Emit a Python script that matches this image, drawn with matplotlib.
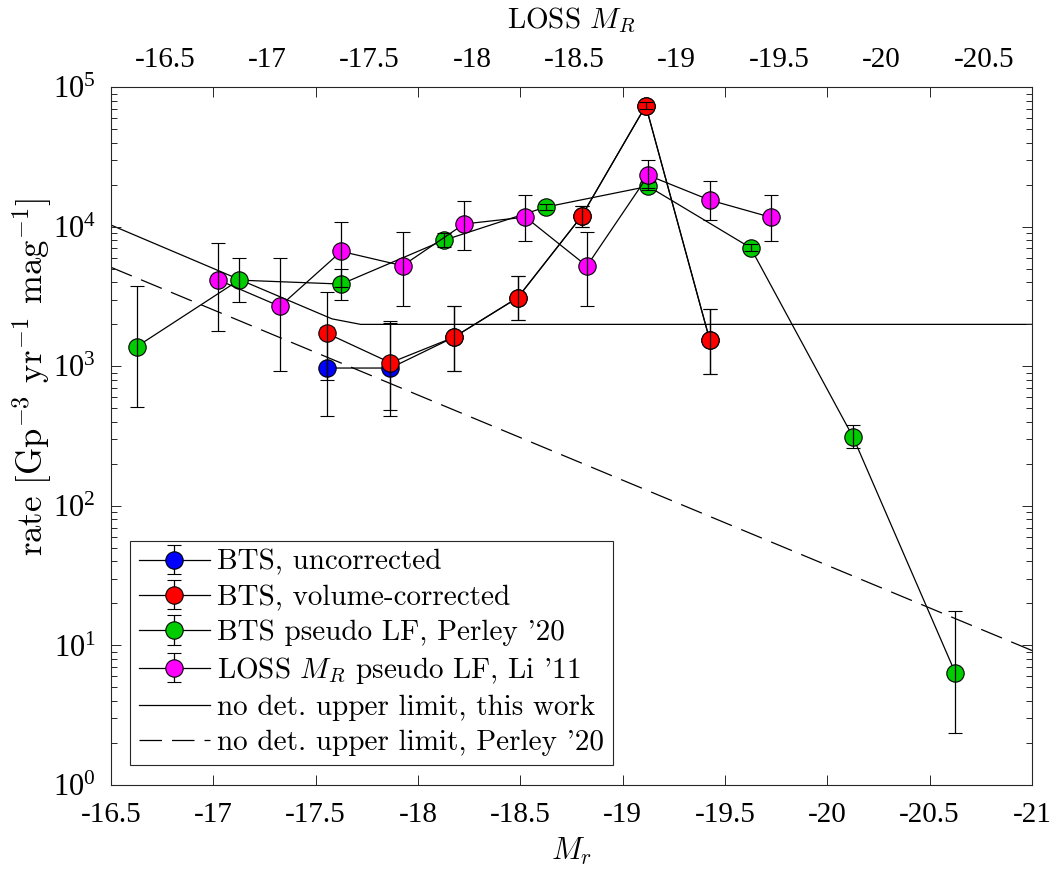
import numpy as np
import matplotlib
matplotlib.use('Agg')
import matplotlib.pyplot as plt
from matplotlib.ticker import FixedLocator, FuncFormatter, LogLocator, NullFormatter

plt.rcParams['mathtext.fontset'] = 'cm'
plt.rcParams['axes.unicode_minus'] = False
plt.rcParams['font.family'] = ['Liberation Serif', 'DejaVu Serif']

# ---------------- data ----------------
blue_x = [-17.555, -17.865, -18.175, -18.487, -18.80, -19.113, -19.425]
blue_y = [973, 973, 1616, 3105, 11950, 73800, 1553]
blue_lo = [443, 443, 926, 2148, 10020, 69500, 885]
blue_hi = [1900, 2033, 2693, 4420, 14090, 78700, 2577]

red_x = [-17.555, -17.865, -18.175, -18.487, -18.80, -19.113, -19.425]
red_y = [1726, 1062, 1616, 3105, 11950, 73800, 1553]
red_lo = [794, 489, 926, 2148, 10020, 69500, 885]
red_hi = [3411, 2103, 2693, 4420, 14090, 78700, 2577]

green_x = [-16.625, -17.125, -17.625, -18.125, -18.625, -19.125, -19.625, -20.125, -20.625]
green_y = [1383, 4150, 3890, 8000, 13870, 19500, 7080, 313, 6.38]
green_lo = [511, 2877, 2985, 7200, 13240, 18360, 6740, 261, 2.37]
green_hi = [3786, 5975, 4990, 8970, 14500, 20940, 7480, 380, 17.6]

mag_x = [-17.025, -17.325, -17.625, -17.925, -18.225, -18.525, -18.825, -19.125, -19.425, -19.725]
mag_y = [4158, 2693, 6670, 5265, 10480, 11750, 5236, 23390, 15560, 11700]
mag_lo = [1791, 926, 3722, 2722, 6775, 7870, 2722, 19000, 11120, 7870]
mag_hi = [7650, 5975, 10890, 9230, 15380, 16900, 9230, 30100, 21400, 16900]

lim_this_x = [-16.5, -17.58, -17.72, -21.0]
lim_this_y = [10300, 2190, 2000, 2000]
lim_perley_x = [-16.5, -21.0]
lim_perley_y = [5130, 9.2]

bottom_ticks = [-16.5, -17, -17.5, -18, -18.5, -19, -19.5, -20, -20.5, -21]
top_ticks = [-16.5, -17, -17.5, -18, -18.5, -19, -19.5, -20, -20.5]
loss_offset = 0.264  # LOSS M_R = M_r + offset

labels = ["BTS, uncorrected", "BTS, volume-corrected", "BTS pseudo LF, Perley '20",
          "LOSS $M_R$ pseudo LF, Li '11", "no det. upper limit, this work",
          "no det. upper limit, Perley '20"]

# ---------------- figure ----------------
fig = plt.figure(figsize=(10.53, 8.69), dpi=100)
ax = fig.add_axes([0.10541, 0.09666, 0.87464, 0.80288])
ax.set_yscale('log')

l1, = ax.plot(lim_this_x, lim_this_y, '-', color='k', lw=0.9, zorder=1.5)
l2, = ax.plot(lim_perley_x, lim_perley_y, '--', color='k', lw=0.9, dashes=(18, 8), zorder=1.5)

def eb(x, y, lo, hi, color, z):
    x = np.asarray(x); y = np.asarray(y)
    err = [y - np.asarray(lo), np.asarray(hi) - y]
    c = ax.errorbar(x, y, yerr=err, fmt='-o', color='k', lw=0.9, ms=12.5,
                    mfc=color, mec='k', mew=0.8, ecolor='k', elinewidth=0.9,
                    capsize=5, capthick=0.9)
    dl, caps, bars = c
    dl.set_zorder(z)
    for cp in caps:
        cp.set_zorder(z + 0.5)
    for b in bars:
        b.set_zorder(z + 0.5)
    return c

cb = eb(blue_x, blue_y, blue_lo, blue_hi, '#0000ff', 2)
cr = eb(red_x, red_y, red_lo, red_hi, '#ff0000', 3)
cg = eb(green_x, green_y, green_lo, green_hi, '#00cc00', 4)
cm = eb(mag_x, mag_y, mag_lo, mag_hi, '#ff00ff', 5)

ax.set_xlim(-16.5, -21)
ax.set_ylim(1, 1e5)

ax.xaxis.set_major_locator(FixedLocator(bottom_ticks))
ax.xaxis.set_major_formatter(FuncFormatter(lambda v, p: '%g' % v))
ax.yaxis.set_major_locator(LogLocator(base=10, numticks=10))
ax.yaxis.set_minor_locator(LogLocator(base=10, subs=np.arange(2, 10), numticks=20))
ax.yaxis.set_minor_formatter(NullFormatter())

ax.tick_params(which='both', direction='in', top=True, right=True, color='#262626', width=0.7)
ax.tick_params(which='major', length=7)
ax.tick_params(which='minor', length=4)
ax.tick_params(axis='x', labelsize=21, pad=12)
ax.tick_params(axis='y', labelsize=22, pad=11)
for s in ax.spines.values():
    s.set_color('#262626')
    s.set_linewidth(0.8)

secax = ax.secondary_xaxis('top', functions=(lambda m: m + loss_offset, lambda m: m - loss_offset))
secax.xaxis.set_major_locator(FixedLocator(top_ticks))
secax.xaxis.set_major_formatter(FuncFormatter(lambda v, p: '%g' % v))
secax.xaxis.set_minor_locator(FixedLocator([]))
secax.tick_params(length=0, labelsize=21, pad=10)
secax.spines['top'].set_visible(False)
secax.set_xlabel('LOSS $M_R$', fontsize=21, family='cmr10', labelpad=14)

ax.set_xlabel('$M_r$', fontsize=22, labelpad=6)
ax.set_ylabel(r'rate [Gp$^{-3}$ yr$^{-1}$ mag$^{-1}$]', fontsize=25, family='cmr10')
ax.yaxis.set_label_coords(-0.062, 0.585)

leg = ax.legend([cb, cr, cg, cm, l1, l2], labels, loc='lower left',
                bbox_to_anchor=(0.0206, 0.0287), borderaxespad=0, fancybox=False,
                edgecolor='#262626', framealpha=1, prop={'family': 'cmr10', 'size': 21},
                borderpad=0.3, labelspacing=0.3, handlelength=2.45, handletextpad=0.25)
leg.get_frame().set_linewidth(0.8)

fig.savefig('out.png', dpi=100)
